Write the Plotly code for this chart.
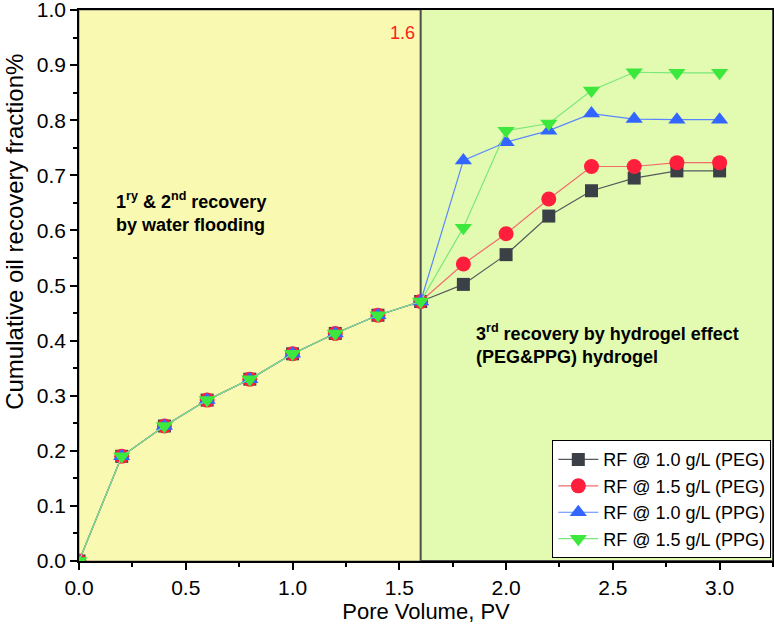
import plotly.graph_objects as go

pv = [0.0, 0.2, 0.4, 0.6, 0.8, 1.0, 1.2, 1.4, 1.6, 1.8, 2.0, 2.2, 2.4, 2.6, 2.8, 3.0]
common = [0.0, 0.19, 0.245, 0.292, 0.330, 0.376, 0.413, 0.446, 0.471]
rf_peg_10 = common + [0.502, 0.556, 0.626, 0.672, 0.695, 0.708, 0.708]
rf_peg_15 = common + [0.539, 0.594, 0.657, 0.716, 0.716, 0.723, 0.723]
rf_ppg_10 = common + [0.727, 0.760, 0.781, 0.812, 0.802, 0.801, 0.801]
rf_ppg_15 = common + [0.605, 0.781, 0.794, 0.854, 0.887, 0.886, 0.886]

names = ["RF @ 1.0 g/L (PEG)", "RF @ 1.5 g/L (PEG)", "RF @ 1.0 g/L (PPG)", "RF @ 1.5 g/L (PPG)"]
series = [rf_peg_10, rf_peg_15, rf_ppg_10, rf_ppg_15]
symbols = ["square", "circle", "triangle-up", "triangle-down"]
mcolors = ["#3b4046", "#ff1f3d", "#3366ff", "#3be83b"]
lcolors = ["#555a5f", "#f26b6b", "#5a87ff", "#7ae87a"]
msizes = [13, 15, 15, 15]

fig = go.Figure()
for n, s, sym, mc, lc, ms in zip(names, series, symbols, mcolors, lcolors, msizes):
    fig.add_trace(go.Scatter(
        x=pv, y=s, mode="lines+markers", name=n,
        line=dict(color=lc, width=1.2),
        marker=dict(symbol=sym, size=ms, color=mc, line=dict(width=0)),
    ))

fig.add_shape(type="rect", xref="x", yref="y", x0=0, x1=1.6, y0=0, y1=1,
              fillcolor="#f9f9b2", line=dict(color="#8a8a70", width=1), layer="below")
fig.add_shape(type="rect", xref="x", yref="y", x0=1.6, x1=3.25, y0=0, y1=1.003,
              fillcolor="#e2fbb0", line=dict(color="#4a4f4a", width=2), layer="below")

FONT = "Liberation Sans, Arial"
fig.add_annotation(x=1.585, y=0.958, xref="x", yref="y", xanchor="right", text="1.6", showarrow=False,
                   font=dict(color="#ff2020", size=18, family=FONT))
fig.add_annotation(x=0.165, y=0.633, xref="x", yref="y", xanchor="left", align="left",
                   text="<b>1<sup>ry</sup> & 2<sup>nd</sup> recovery<br>by water flooding</b>",
                   showarrow=False, font=dict(color="black", size=18, family=FONT))
fig.add_annotation(x=1.85, y=0.394, xref="x", yref="y", xanchor="left", align="left",
                   text="<b>3<sup>rd</sup> recovery by hydrogel effect<br>(PEG&PPG) hydrogel</b>",
                   showarrow=False, font=dict(color="black", size=18, family=FONT))
# y-axis title (placed as annotation to match the reference's vertical offset)
fig.add_annotation(x=-0.094, y=0.597, xref="paper", yref="paper", xanchor="center", yanchor="middle",
                   text="Cumulative oil recovery fraction%", textangle=-90, showarrow=False,
                   font=dict(color="black", size=24, family=FONT))

fig.update_layout(
    width=774, height=629,
    margin=dict(l=79, r=1, t=10, b=68, autoexpand=False),
    paper_bgcolor="white", plot_bgcolor="white",
    font=dict(family=FONT, size=21, color="black"),
    showlegend=True,
    legend=dict(x=0.682, y=0.005, xanchor="left", yanchor="bottom",
                bgcolor="white", bordercolor="black", borderwidth=1,
                font=dict(size=18), tracegroupgap=0, itemwidth=40),
)
fig.update_xaxes(range=[0, 3.25], tickvals=[0, 0.5, 1.0, 1.5, 2.0, 2.5, 3.0],
                 ticktext=["0.0", "0.5", "1.0", "1.5", "2.0", "2.5", "3.0"],
                 ticks="outside", ticklen=7, tickwidth=1.5, tickcolor="black",
                 minor=dict(dtick=0.25, tick0=0, ticks="outside", ticklen=4, tickcolor="black", tickwidth=1.5),
                 showline=True, linecolor="black", linewidth=1.5, mirror=True,
                 showgrid=False, zeroline=False, automargin=False, ticklabeloverflow="allow",
                 title=dict(text="Pore Volume, PV", font=dict(size=22), standoff=2))
fig.update_yaxes(range=[0, 1.0], tickvals=[0, 0.1, 0.2, 0.3, 0.4, 0.5, 0.6, 0.7, 0.8, 0.9, 1.0],
                 tickformat=".1f",
                 ticks="outside", ticklen=7, tickwidth=1.5, tickcolor="black",
                 minor=dict(dtick=0.05, tick0=0, ticks="outside", ticklen=4, tickcolor="black", tickwidth=1.5),
                 showline=True, linecolor="black", linewidth=1.5, mirror=True,
                 showgrid=False, zeroline=False, automargin=False, ticklabeloverflow="allow")

fig.write_html("out.html", config={"displayModeBar": False},
               post_script="document.body.style.margin='0';document.body.style.padding='0';")
